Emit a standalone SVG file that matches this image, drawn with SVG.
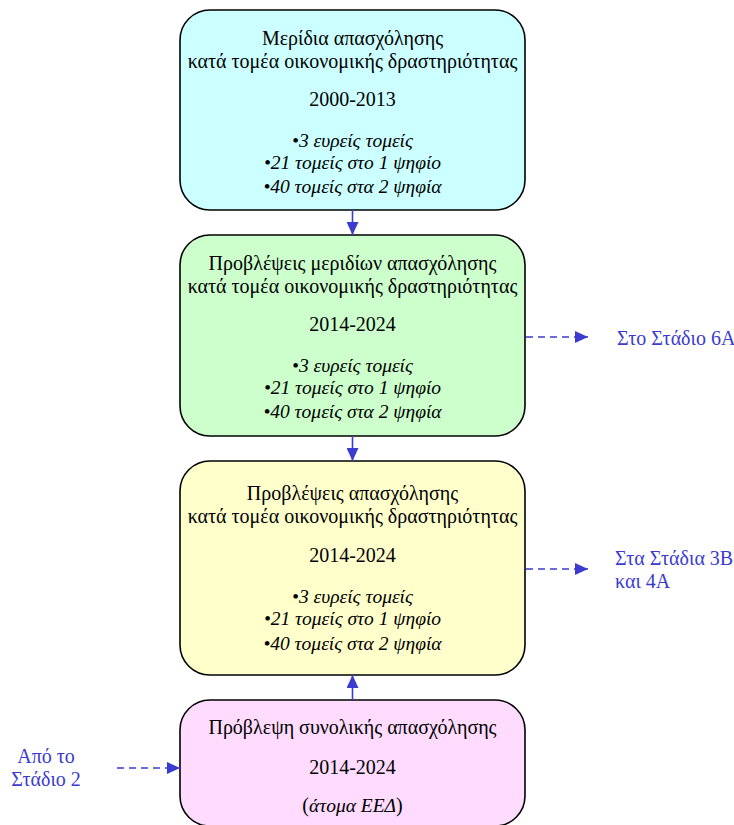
<svg xmlns="http://www.w3.org/2000/svg" width="734" height="825" viewBox="0 0 734 825">
<style>
.box{stroke:#000;stroke-width:1.6}
.t{font-family:"Liberation Serif","Times New Roman",serif;font-size:20px;fill:#000;text-anchor:middle}
.i{font-style:italic;font-size:19.5px}
.lbl{font-family:"Liberation Serif","Times New Roman",serif;font-size:20px;fill:#3b3bd0}
.solid{stroke:#3b3bd0;stroke-width:1.6;fill:none}
.dash{stroke:#3b3bd0;stroke-width:1.6;fill:none;stroke-dasharray:7 5}
</style>
<defs>
<marker id="ah" viewBox="0 0 13 12" refX="13" refY="6" markerWidth="13" markerHeight="12" markerUnits="userSpaceOnUse" orient="auto">
<path d="M0,0 L13,6 L0,12 Z" fill="#3b3bd0"/>
</marker>
</defs>
<rect width="734" height="825" fill="#fff"/>
<g id="node-shares">
<rect class="box" x="180" y="10" width="345" height="200" rx="30" fill="#ccffff"/>
<text class="t" x="352.5" y="45">Μερίδια απασχόλησης</text>
<text class="t" x="352.5" y="68">κατά τομέα οικονομικής δραστηριότητας</text>
<text class="t" x="352.5" y="106">2000-2013</text>
<text class="t i" x="352.5" y="147">•3 ευρείς τομείς</text>
<text class="t i" x="352.5" y="169">•21 τομείς στο 1 ψηφίο</text>
<text class="t i" x="352.5" y="193">•40 τομείς στα 2 ψηφία</text>
</g>
<g id="node-share-forecast">
<rect class="box" x="180" y="235" width="345" height="201" rx="30" fill="#ccffcc"/>
<text class="t" x="352.5" y="270">Προβλέψεις μεριδίων απασχόλησης</text>
<text class="t" x="352.5" y="293">κατά τομέα οικονομικής δραστηριότητας</text>
<text class="t" x="352.5" y="331">2014-2024</text>
<text class="t i" x="352.5" y="372">•3 ευρείς τομείς</text>
<text class="t i" x="352.5" y="394">•21 τομείς στο 1 ψηφίο</text>
<text class="t i" x="352.5" y="418">•40 τομείς στα 2 ψηφία</text>
</g>
<g id="node-employment-forecast">
<rect class="box" x="180" y="461" width="345" height="214" rx="30" fill="#ffffcc"/>
<text class="t" x="352.5" y="500">Προβλέψεις απασχόλησης</text>
<text class="t" x="352.5" y="523">κατά τομέα οικονομικής δραστηριότητας</text>
<text class="t" x="352.5" y="562">2014-2024</text>
<text class="t i" x="352.5" y="603">•3 ευρείς τομείς</text>
<text class="t i" x="352.5" y="625">•21 τομείς στο 1 ψηφίο</text>
<text class="t i" x="352.5" y="650">•40 τομείς στα 2 ψηφία</text>
</g>
<g id="node-total">
<rect class="box" x="180" y="700" width="345" height="126" rx="30" fill="#ffdcff"/>
<text class="t" x="352.5" y="734">Πρόβλεψη συνολικής απασχόλησης</text>
<text class="t" x="352.5" y="774">2014-2024</text>
<text class="t" x="352.5" y="812">(<tspan class="i">άτομα ΕΕΔ</tspan>)</text>
</g>
<g id="ext-labels">
<text class="lbl" x="617" y="345">Στο Στάδιο 6Α</text>
<text class="lbl" x="615" y="565">Στα Στάδια 3Β</text>
<text class="lbl" x="615" y="588">και 4Α</text>
<text class="lbl" x="46" y="763" text-anchor="middle">Από το</text>
<text class="lbl" x="46" y="786" text-anchor="middle">Στάδιο 2</text>
</g>
<g id="connectors">
<line class="solid" x1="352.5" y1="210" x2="352.5" y2="235" marker-end="url(#ah)"/>
<line class="solid" x1="352.5" y1="436" x2="352.5" y2="461" marker-end="url(#ah)"/>
<line class="solid" x1="352.5" y1="700" x2="352.5" y2="675" marker-end="url(#ah)"/>
<line class="dash" x1="526" y1="337" x2="588" y2="337" marker-end="url(#ah)"/>
<line class="dash" x1="526" y1="569" x2="588" y2="569" marker-end="url(#ah)"/>
<line class="dash" x1="117" y1="768" x2="180" y2="768" marker-end="url(#ah)"/>
</g>
</svg>
